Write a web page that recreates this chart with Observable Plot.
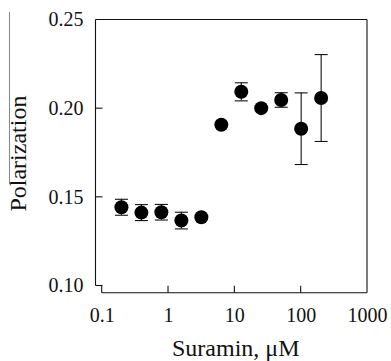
<!DOCTYPE html>
<html>
<head>
<meta charset="utf-8">
<script src="https://cdn.jsdelivr.net/npm/d3@7"></script>
<script src="https://cdn.jsdelivr.net/npm/@observablehq/plot@0.6"></script>
<style>
  html, body { margin: 0; padding: 0; background: #fff; }
  #wrap { width: 391px; height: 361px; }
  #wrap svg, #wrap svg text { font-family: "Liberation Serif", "Times New Roman", serif !important; }
</style>
</head>
<body>
<div id="wrap"></div>
<script>
// Data
const conc = [0.195, 0.39, 0.78, 1.5625, 3.125, 6.25, 12.5, 25, 50, 100, 200];
const polarization = [0.1444, 0.1414, 0.1416, 0.1369, 0.1388, 0.1909, 0.2095, 0.2003, 0.2049, 0.1887, 0.2060];
const sem = [0.0045, 0.0045, 0.0044, 0.0047, null, null, 0.0051, null, 0.0041, 0.0202, 0.0245];
const xTicks = [0.1, 1, 10, 100, 1000];
const yTicks = [0.10, 0.15, 0.20, 0.25];
const xTitle = "Suramin, μM";
const yTitle = "Polarization";

const data = conc.map((c, i) => ({c, p: polarization[i], e: sem[i]}));
const withErr = data.filter(d => d.e != null);

const cap = {
  draw(ctx) { ctx.moveTo(-6.5, 0); ctx.lineTo(6.5, 0); }
};

function frameMark(index, scales, values, dims) {
  const sx = scales.x, sy = scales.y;
  const xL = dims.marginLeft;
  const x01 = sx(xTicks[0]);
  const xR = sx(xTicks[xTicks.length - 1]);
  const yT = sy(yTicks[yTicks.length - 1]);
  const yB0 = sy(yTicks[0]);
  const yB = dims.height - dims.marginBottom;
  const g = d3.create("svg:g").attr("fill", "none");
  const line = (x1, y1, x2, y2, s = "#111") => g.append("line").attr("x1", x1).attr("y1", y1).attr("x2", x2).attr("y2", y2).attr("stroke", s).attr("stroke-width", 1.1);
  line(xL, yT, xL, yB0);
  line(xL, yT, xR, yT);
  line(xR, yT, xR, yB);
  line(x01, yB, xR, yB);
  for (const t of yTicks.slice(0, -1)) line(xL, sy(t), xL + 7, sy(t));
  for (const t of xTicks.slice(0, -1)) line(sx(t), yB, sx(t), yB - 7);
  // faint stray rule at the far left of the original scan
  line(9.5, yT - 7.5, 9.5, (yT + yB) / 2 + 28, "#8a8a8a");
  return g.node();
}

const serif = "'Liberation Serif', 'Times New Roman', serif";

const chart = Plot.plot({
  width: 391,
  height: 361,
  marginLeft: 95.5,
  marginRight: 24,
  marginTop: 19.5,
  marginBottom: 68.3,
  style: `font-family: ${serif}; background: #fff; color: #111;`,
  x: {type: "log", domain: [0.1, 1000], range: [101.7, 367]},
  y: {domain: [0.10, 0.25], range: [285.5, 19.5]},
  marks: [
    frameMark,
    Plot.axisY({ticks: yTicks, tickSize: 0, tickPadding: 12.5, tickFormat: d3.format(".2f"), fontSize: 20, fontFamily: serif, label: null}),
    Plot.axisX({ticks: xTicks, tickSize: 0, tickPadding: 15, tickFormat: d => String(d), fontSize: 20, fontFamily: serif, label: null}),
    Plot.ruleX(withErr, {x: "c", y1: d => d.p - d.e, y2: d => d.p + d.e, stroke: "#111", strokeWidth: 1.1}),
    Plot.dot(withErr, {x: "c", y: d => d.p - d.e, symbol: cap, stroke: "#111", strokeWidth: 1.1, r: 5}),
    Plot.dot(withErr, {x: "c", y: d => d.p + d.e, symbol: cap, stroke: "#111", strokeWidth: 1.1, r: 5}),
    Plot.dot(data, {x: "c", y: "p", r: 7, fill: "#000", stroke: "none"}),
    Plot.text([xTitle], {frameAnchor: "bottom", dx: 4, dy: 55, fontSize: 24, fontFamily: serif, textAnchor: "middle", lineAnchor: "middle", fill: "#111"}),
    Plot.text([yTitle], {frameAnchor: "left", dx: -77.5, dy: -3, rotate: -90, fontSize: 24, fontFamily: serif, textAnchor: "middle", lineAnchor: "middle", fill: "#111"})
  ]
});
document.getElementById("wrap").appendChild(chart);
</script>
</body>
</html>
